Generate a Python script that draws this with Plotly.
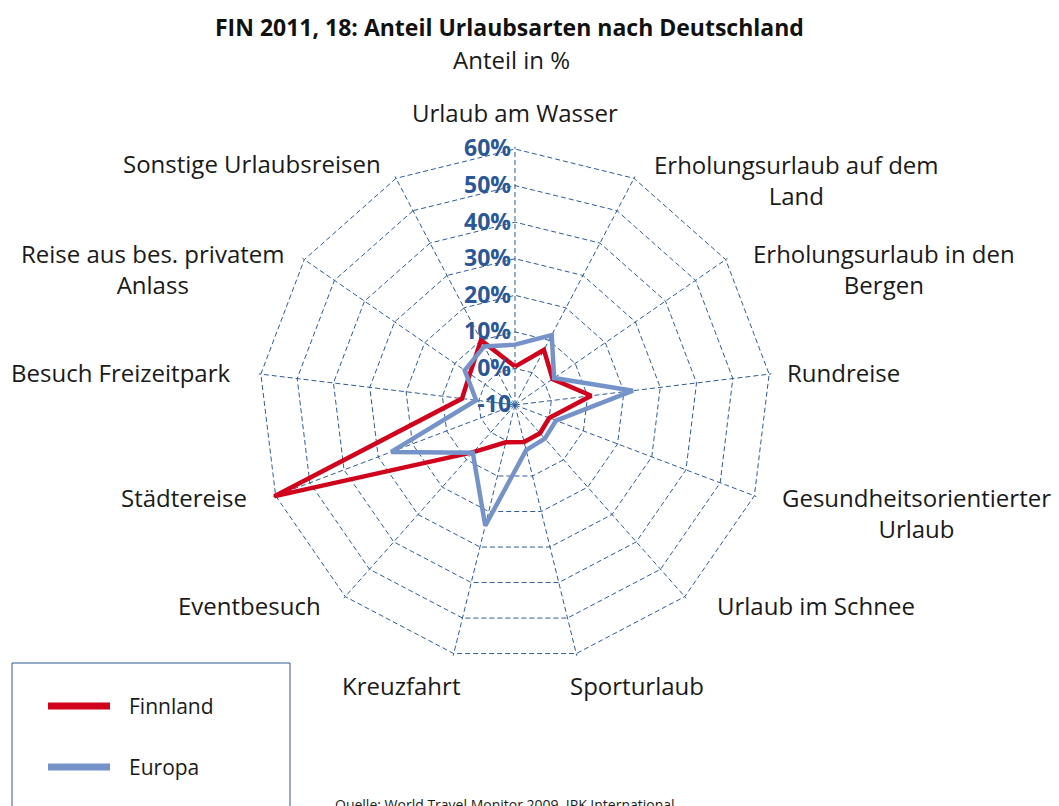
import plotly.graph_objects as go

W, H = 1059, 806
OFF = 8  # the page body adds an 8px margin around the figure

categories = ["Urlaub am Wasser", "Erholungsurlaub auf dem<br>Land",
              "Erholungsurlaub in den<br>Bergen", "Rundreise",
              "Gesundheitsorientierter<br>Urlaub", "Urlaub im Schnee",
              "Sporturlaub", "Kreuzfahrt", "Eventbesuch", "Städtereise",
              "Besuch Freizeitpark", "Reise aus bes. privatem<br>Anlass",
              "Sonstige Urlaubsreisen"]
finnland = [0.5, 7.0, 2.5, 11.0, 0.0, 0.3, 0.4, 0.5, 7.2, 60.5, 4.6, 5.0, 10.0]
europa = [6.5, 11.6, 3.0, 22.5, 2.0, 2.3, 2.7, 24.0, 7.4, 26.2, 0.7, 6.7, 8.1]
radial_ticks = [-10, 0, 10, 20, 30, 40, 50, 60]
radial_labels = ["-10", "0%", "10%", "20%", "30%", "40%", "50%", "60%"]

# where the category labels sit (page pixels, centre of text block)
label_pos = [(515, 112), (796, 180), (884, 269), (843, 372), (916, 513),
             (816, 605), (637, 685), (401, 685), (249, 605), (184, 497),
             (120, 372), (152, 269), (252, 163)]

RED = "#D0021C"
BLUE = "#7593C9"
GRID = "#2E5C9E"
FONT = "Open Sans"
TXT = "#1a1a1a"


def px(x):
    return (x - OFF) / W


def py(y):
    return 1 - (y - OFF) / H


# centre of the radar on the page (515, 405); the 60% ring has radius 256.
# plotly skips grid lines within 1px of the range end, so stretch the range
# a little past 60 and grow the polar area to match.
r_lo, r_hi = -10, 60.6
cx, cy = 515, 405
R = 256 * (r_hi - r_lo) / (60 - r_lo)

fig = go.Figure()
fig.add_trace(go.Scatterpolar(r=finnland + finnland[:1], theta=categories + categories[:1],
                              mode="lines", name="Finnland",
                              line=dict(color=RED, width=4.5)))
fig.add_trace(go.Scatterpolar(r=europa + europa[:1], theta=categories + categories[:1],
                              mode="lines", name="Europa",
                              line=dict(color=BLUE, width=4.5)))

fig.update_layout(
    width=W, height=H,
    margin=dict(l=0, r=0, t=0, b=0),
    paper_bgcolor="white",
    showlegend=False,
    font=dict(family=FONT, color=TXT),
    polar=dict(
        domain=dict(x=[px(cx - R), px(cx + R)], y=[py(cy + R), py(cy - R)]),
        bgcolor="white",
        gridshape="linear",
        radialaxis=dict(range=[r_lo, r_hi], tickvals=radial_ticks, ticktext=radial_labels,
                        showline=False, ticks="", angle=90, tickangle=90,
                        side="counterclockwise",
                        gridcolor=GRID, griddash="5px,3px", gridwidth=1,
                        tickfont=dict(size=23, color="#2B5797", weight="bold")),
        angularaxis=dict(direction="clockwise", rotation=90, showline=False,
                         gridcolor=GRID, griddash="5px,3px", gridwidth=1,
                         ticks="", showticklabels=False),
    ),
)

for name, (lx, ly) in zip(categories, label_pos):
    fig.add_annotation(x=px(lx), y=py(ly), xref="paper", yref="paper", showarrow=False,
                       xanchor="center", yanchor="middle", align="center",
                       text=name, font=dict(size=24, color=TXT))

fig.add_annotation(x=px(509), y=py(27), xref="paper", yref="paper", showarrow=False,
                   xanchor="center", yanchor="middle",
                   text="<b>FIN 2011, 18: Anteil Urlaubsarten nach Deutschland</b>",
                   font=dict(size=23, color="#111111"))
fig.add_annotation(x=px(511), y=py(60), xref="paper", yref="paper", showarrow=False,
                   xanchor="center", yanchor="middle",
                   text="Anteil in %", font=dict(size=24, color=TXT))

# legend box drawn by hand
fig.add_shape(type="rect", xref="paper", yref="paper",
              x0=px(12), x1=px(290), y0=py(663), y1=py(840),
              line=dict(color="#2F5A94", width=1))
for yy, col, name in [(706, RED, "Finnland"), (767, BLUE, "Europa")]:
    fig.add_shape(type="line", xref="paper", yref="paper",
                  x0=px(48), x1=px(110), y0=py(yy), y1=py(yy),
                  line=dict(color=col, width=7))
    fig.add_annotation(x=px(127), y=py(yy), xref="paper", yref="paper", showarrow=False,
                       xanchor="left", yanchor="middle", text=name,
                       font=dict(size=21, color=TXT))

fig.add_annotation(x=px(333), y=py(793), xref="paper", yref="paper", showarrow=False,
                   xanchor="left", yanchor="top",
                   text="Quelle: World Travel Monitor 2009, IPK International",
                   font=dict(size=14, color=TXT))

fig.write_html("out.html")
